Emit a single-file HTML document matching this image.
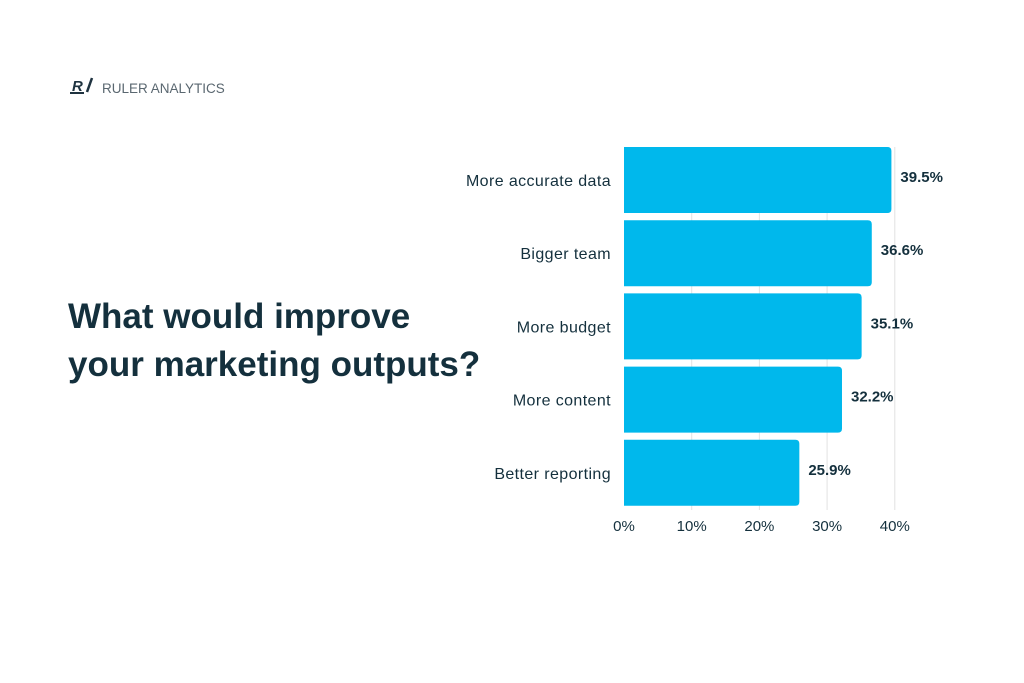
<!DOCTYPE html>
<html><head><meta charset="utf-8"><style>
body{margin:0;background:#fff;width:1024px;height:683px;overflow:hidden;font-family:"Liberation Sans",sans-serif}
</style></head><body>
<svg width="1024" height="683" style="position:absolute;left:0;top:0">
<g>
<path d="M70 93 L84 93" stroke="#1f3340" stroke-width="2"/>
<text x="72" y="91" font-size="15" font-weight="bold" font-style="italic" fill="#1f3340">R</text>
<path d="M87 92 L92 78" stroke="#1f3340" stroke-width="2.5"/>
<text x="102" y="93" font-size="13.5" fill="#5a6770">RULER ANALYTICS</text>
</g>
<text x="68" y="328" font-size="35" font-weight="bold" fill="#14303d">What would improve</text>
<text x="68" y="376" font-size="35" font-weight="bold" fill="#14303d">your marketing outputs?</text>
<g id="plot"></g>
</svg>
<script>
const categories=["More accurate data","Bigger team","More budget","More content","Better reporting"];
const values=[39.5,36.6,35.1,32.2,25.9];
const ticks=[0,10,20,30,40];
const ns="http://www.w3.org/2000/svg";
const g=document.getElementById('plot');
const x=v=>624+v*6.77;
const top0=147,band=73.2,bh=66;
function mk(t,a){const e=document.createElementNS(ns,t);for(const k in a)e.setAttribute(k,a[k]);g.appendChild(e);return e;}
ticks.forEach(t=>{
 if(t>0){const l=mk('line',{x1:x(t),x2:x(t),y1:top0,y2:510,stroke:'#e2e2e2','stroke-width':1});
 
 }
 const tx=mk('text',{x:x(t),y:531,'font-size':15,fill:'#14303d','text-anchor':'middle'});tx.textContent=t+'%';
 
 
});
categories.forEach((c,i)=>{
 const y=top0+i*band;const w=x(values[i])-624;
 const b=mk('path',{d:`M624 ${y} H${624+w-4} Q${624+w} ${y} ${624+w} ${y+4} V${y+bh-4} Q${624+w} ${y+bh} ${624+w-4} ${y+bh} H624 Z`,fill:'#00b8ec'});
 
 
 const l=mk('text',{x:611,y:y+bh/2+6,'font-size':16,'letter-spacing':0.4,fill:'#14303d','text-anchor':'end'});l.textContent=c;
 
 
 const v=mk('text',{x:624+w+9,y:y+bh/2+2,'font-size':15,'font-weight':'bold',fill:'#14303d'});v.textContent=values[i].toFixed(1)+'%';
 
 
});
</script>
</body></html>
